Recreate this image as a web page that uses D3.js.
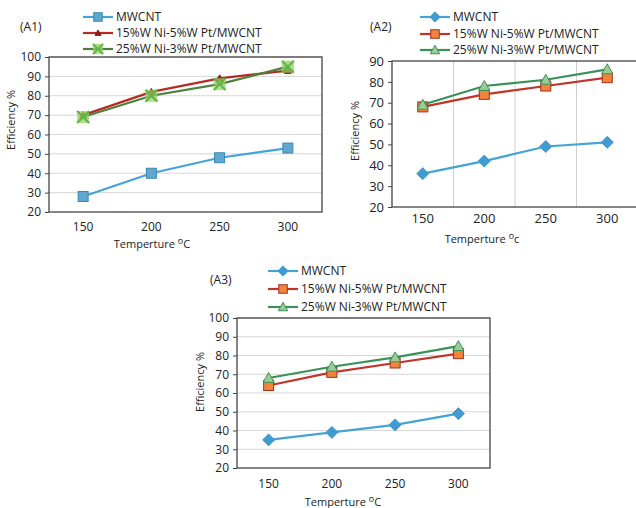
<!DOCTYPE html>
<html>
<head>
<meta charset="utf-8">
<script src="https://cdn.jsdelivr.net/npm/d3@7"></script>
<style>
  body { margin: 0; background: #fff; }
  text { font-family: "Open Sans", "Liberation Sans", sans-serif; fill: #222; }
</style>
</head>
<body>
<div id="chart"></div>
<script>
// data
var temps = ["150", "200", "250", "300"];
var seriesNames = ["MWCNT", "15%W Ni-5%W Pt/MWCNT", "25%W Ni-3%W Pt/MWCNT"];

var a1Mwcnt = [28, 40, 48, 53];
var a1Ni15 = [70, 82, 89, 93];
var a1Ni25 = [69, 80, 86, 95];

var a2Mwcnt = [36, 42, 49, 51];
var a2Ni15 = [68, 74, 78, 82];
var a2Ni25 = [69, 78, 81, 86];

var a3Mwcnt = [35, 39, 43, 49];
var a3Ni15 = [64, 71, 76, 81];
var a3Ni25 = [68, 74, 79, 85];

var a1Ticks = [20, 30, 40, 50, 60, 70, 80, 90, 100];
var a2Ticks = [20, 30, 40, 50, 60, 70, 80, 90];
var a3Ticks = [20, 30, 40, 50, 60, 70, 80, 90, 100];

var svg = d3.select("#chart").append("svg")
	.attr("width", 636)
	.attr("height", 508);

// marker drawing helper
function marker(g, kind, size, fill, stroke) {
	var s = size / 2;
	if (kind == "square") {
		g.append("rect").attr("x", -s).attr("y", -s).attr("width", size).attr("height", size)
			.attr("fill", fill).attr("stroke", stroke).attr("stroke-width", 1);
	} else if (kind == "diamond") {
		g.append("path").attr("d", "M0," + (-s) + "L" + s + ",0L0," + s + "L" + (-s) + ",0Z")
			.attr("fill", fill).attr("stroke", stroke).attr("stroke-width", 1);
	} else if (kind == "triangle") {
		g.append("path").attr("d", "M0," + (-s) + "L" + s + "," + (s * 0.8) + "L" + (-s) + "," + (s * 0.8) + "Z")
			.attr("fill", fill).attr("stroke", stroke).attr("stroke-width", 1);
	} else if (kind == "xbox") {
		g.append("rect").attr("x", -s).attr("y", -s).attr("width", size).attr("height", size)
			.attr("fill", fill).attr("stroke", "none").attr("opacity", 0.75);
		g.append("path").attr("d", "M" + (-s) + "," + (-s) + "L" + s + "," + s + "M" + s + "," + (-s) + "L" + (-s) + "," + s)
			.attr("stroke", stroke).attr("stroke-width", 2);
	}
}

function drawPanel(p) {
	var x = d3.scaleBand().domain(temps).range([p.left, p.right]);
	var y = d3.scaleLinear().domain(p.yDomain).range([p.bottom, p.top]);
	var g = svg.append("g");

	// gridlines
	if (p.grid == "h") {
		g.selectAll("line.grid").data(p.ticks.slice(1)).enter().append("line")
			.attr("x1", p.left).attr("x2", p.right)
			.attr("y1", function(d) { return y(d); })
			.attr("y2", function(d) { return y(d); })
			.style("stroke", "#d6d6d6");
	} else {
		g.selectAll("line.grid").data(temps.slice(1)).enter().append("line")
			.attr("x1", function(d) { return x(d); })
			.attr("x2", function(d) { return x(d); })
			.attr("y1", p.top).attr("y2", p.bottom)
			.style("stroke", "#cfcfcf");
	}

	// frame
	g.append("rect")
		.attr("x", p.left).attr("y", p.top)
		.attr("width", p.right - p.left).attr("height", p.bottom - p.top)
		.attr("fill", "none").attr("stroke", "#444").attr("stroke-width", 1.3);

	// y axis
	var yAxis = d3.axisLeft(y).tickValues(p.ticks).tickSize(4).tickPadding(4);
	g.append("g")
		.attr("transform", "translate(" + p.left + ",0)")
		.call(yAxis)
		.call(function(a) {
			a.select(".domain").remove();
			a.selectAll("line").attr("stroke", "#444");
			a.selectAll("text").style("font-size", p.tickFont + "px").attr("fill", "#222");
		});

	// x axis labels
	var xAxis = d3.axisBottom(x).tickSize(0).tickPadding(0);
	g.append("g")
		.attr("transform", "translate(0," + p.xTickY + ")")
		.call(xAxis)
		.call(function(a) {
			a.select(".domain").remove();
			a.selectAll("text").style("font-size", p.tickFont + "px").attr("fill", "#222").attr("dy", "0.35em");
		});

	// axis titles
	g.append("text")
		.attr("transform", "translate(" + p.yLabelX + "," + p.yLabelY + ") rotate(-90)")
		.attr("text-anchor", "middle")
		.style("font-size", "11px")
		.text("Efficiency %");

	var xl = g.append("text")
		.attr("x", p.xLabelX).attr("y", p.xLabelY)
		.attr("text-anchor", "middle")
		.style("font-size", "11px");
	xl.append("tspan").text("Temperture  ");
	xl.append("tspan").attr("dy", -4).style("font-size", "9px").text("o");
	xl.append("tspan").attr("dy", 4).text(p.unit);

	// series
	var line = d3.line()
		.x(function(d, i) { return x(temps[i]) + x.bandwidth() / 2; })
		.y(function(d) { return y(d); });

	p.series.forEach(function(s) {
		g.append("path")
			.datum(s.values)
			.attr("d", line)
			.attr("fill", "none")
			.attr("stroke", s.line)
			.attr("stroke-width", 2.2);
		s.values.forEach(function(v, i) {
			var m = g.append("g")
				.attr("transform", "translate(" + (x(temps[i]) + x.bandwidth() / 2) + "," + y(v) + ")");
			marker(m, s.marker, s.size, s.fill, s.stroke);
		});
	});

	// legend
	p.series.forEach(function(s, i) {
		var ly = p.legendY[i];
		g.append("line")
			.attr("x1", p.legendX).attr("x2", p.legendX + 30)
			.attr("y1", ly).attr("y2", ly)
			.attr("stroke", s.line).attr("stroke-width", 2.2);
		var m = g.append("g").attr("transform", "translate(" + (p.legendX + 15) + "," + ly + ")");
		marker(m, s.marker, s.size * 0.85, s.fill, s.stroke);
		g.append("text")
			.attr("x", p.legendX + 33).attr("y", ly)
			.attr("dy", "0.35em")
			.style("font-size", "12px")
			.text(s.name);
	});

	g.append("text")
		.attr("x", p.tagX).attr("y", p.tagY)
		.style("font-size", "12px")
		.text(p.tag);
}

var blueLine = "#45a3d6";

drawPanel({
	tag: "(A1)", tagX: 20, tagY: 31,
	left: 49, right: 322, top: 57, bottom: 212,
	yDomain: [20, 100], ticks: a1Ticks, grid: "h", tickFont: 12,
	xTickY: 227, xLabelX: 152, xLabelY: 248, unit: "C",
	yLabelX: 15, yLabelY: 120,
	legendX: 83, legendY: [17, 33, 49],
	series: [
		{ name: seriesNames[0], values: a1Mwcnt, line: blueLine, marker: "square", size: 10, fill: "#5ea8d0", stroke: "#3d86b0" },
		{ name: seriesNames[1], values: a1Ni15, line: "#b42a24", marker: "triangle", size: 7, fill: "#8e1a14", stroke: "#8e1a14" },
		{ name: seriesNames[2], values: a1Ni25, line: "#4f7f3c", marker: "xbox", size: 12, fill: "#93cf6b", stroke: "#5fb640" }
	]
});

drawPanel({
	tag: "(A2)", tagX: 370, tagY: 31,
	left: 392, right: 638, top: 61, bottom: 207,
	yDomain: [20, 90], ticks: a2Ticks, grid: "v", tickFont: 13,
	xTickY: 218, xLabelX: 482, xLabelY: 243, unit: "c",
	yLabelX: 359, yLabelY: 131,
	legendX: 420, legendY: [17, 34, 50],
	series: [
		{ name: seriesNames[0], values: a2Mwcnt, line: blueLine, marker: "diamond", size: 12, fill: "#3f9bd2", stroke: "#3f9bd2" },
		{ name: seriesNames[1], values: a2Ni15, line: "#c0342a", marker: "square", size: 10, fill: "#f0843c", stroke: "#a82c1c" },
		{ name: seriesNames[2], values: a2Ni25, line: "#3b9058", marker: "triangle", size: 11, fill: "#9ccc96", stroke: "#3b9058" }
	]
});

drawPanel({
	tag: "(A3)", tagX: 210, tagY: 284,
	left: 237, right: 490, top: 318, bottom: 468,
	yDomain: [20, 100], ticks: a3Ticks, grid: "h", tickFont: 12,
	xTickY: 484, xLabelX: 343, xLabelY: 506, unit: "C",
	yLabelX: 204, yLabelY: 382,
	legendX: 268, legendY: [271, 289, 307],
	series: [
		{ name: seriesNames[0], values: a3Mwcnt, line: blueLine, marker: "diamond", size: 12, fill: "#3f9bd2", stroke: "#3f9bd2" },
		{ name: seriesNames[1], values: a3Ni15, line: "#c0342a", marker: "square", size: 10, fill: "#f0843c", stroke: "#a82c1c" },
		{ name: seriesNames[2], values: a3Ni25, line: "#3b9058", marker: "triangle", size: 11, fill: "#9ccc96", stroke: "#3b9058" }
	]
});
</script>
</body>
</html>
